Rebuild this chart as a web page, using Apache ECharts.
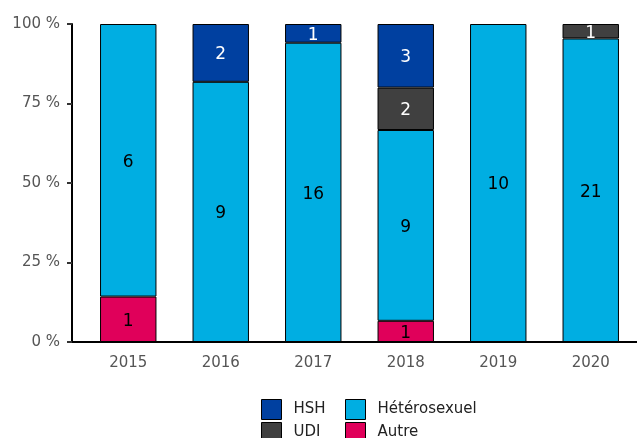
<!DOCTYPE html>
<html style="height: 100%">
<head>
    <meta charset="utf-8">
    <title>ECharts</title>
    <script src="https://cdn.jsdelivr.net/npm/echarts@6/dist/echarts.min.js"></script>
</head>
<body style="height: 100%; margin: 0">
<div id="main" style="width: 637px; height: 438px"></div>
<script type="text/javascript">

    // données (effectifs par année)
    var annees = ['2015', '2016', '2017', '2018', '2019', '2020'];
    var autre = [1, 0, 0, 1, 0, 0];
    var hetero = [6, 9, 16, 9, 10, 21];
    var udi = [0, 0, 0, 2, 0, 1];
    var hsh = [0, 2, 1, 3, 0, 0];
    var yTicks = [0, 25, 50, 75, 100];

    var totaux = annees.map(function (a, i) {
        return autre[i] + hetero[i] + udi[i] + hsh[i];
    });

    function pct(arr) {
        return arr.map(function (v, i) { return v > 0 ? v / totaux[i] * 100 : null; });
    }

    function serie(nom, counts, couleur, texte) {
        return {
            name: nom,
            type: 'bar',
            stack: 'total',
            barWidth: '61%',
            data: pct(counts),
            itemStyle: { color: couleur, borderColor: '#000', borderWidth: 1 },
            label: {
                show: true,
                position: 'inside',
                offset: [0, 2],
                color: texte,
                fontSize: 17,
                fontFamily: 'DejaVu Sans',
                formatter: function (p) {
                    var n = counts[p.dataIndex];
                    return n > 0 ? String(n) : '';
                }
            }
        };
    }

    var myChart = echarts.init(document.getElementById('main'));

    var legendeBase = {
        orient: 'vertical',
        top: 394,
        height: 60,
        itemWidth: 20, itemHeight: 20, itemGap: 2,
        icon: 'rect',
        itemStyle: { borderColor: '#000', borderWidth: 1 },
        textStyle: { color: '#222', fontSize: 15, fontFamily: 'DejaVu Sans', padding: [0, 0, 0, 7] }
    };

    var option = {
        animation: false,
        grid: { left: 82, right: 0, top: 24, bottom: 96 },
        xAxis: {
            type: 'category',
            data: annees,
            axisLine: { lineStyle: { color: '#000', width: 2 } },
            axisTick: { show: false },
            axisLabel: { color: '#555', fontSize: 15, fontFamily: 'DejaVu Sans', margin: 14 }
        },
        yAxis: {
            type: 'value',
            min: yTicks[0],
            max: yTicks[yTicks.length - 1],
            interval: 25,
            offset: 10,
            splitLine: { show: false },
            axisLine: { show: true, lineStyle: { color: '#000', width: 2 } },
            axisTick: { show: true, length: 5, lineStyle: { color: '#333', width: 2 } },
            axisLabel: { color: '#555', fontSize: 15, fontFamily: 'DejaVu Sans', formatter: '{value} %', margin: 12 }
        },
        legend: [
            Object.assign({}, legendeBase, { left: 256, data: ['HSH', 'UDI'] }),
            Object.assign({}, legendeBase, { left: 340, data: ['Hétérosexuel', 'Autre'] })
        ],
        graphic: [
            // raccord de l'axe x jusqu'à l'axe y décalé
            { type: 'line', shape: { x1: 71, y1: 342, x2: 83, y2: 342 }, style: { stroke: '#000', lineWidth: 2 } }
        ],
        series: [
            serie('Autre', autre, '#e0005a', '#000'),
            serie('Hétérosexuel', hetero, '#00aee2', '#000'),
            serie('UDI', udi, '#404040', '#fff'),
            serie('HSH', hsh, '#0040a0', '#fff')
        ]
    };

    myChart.setOption(option);
</script>
</body>
</html>
